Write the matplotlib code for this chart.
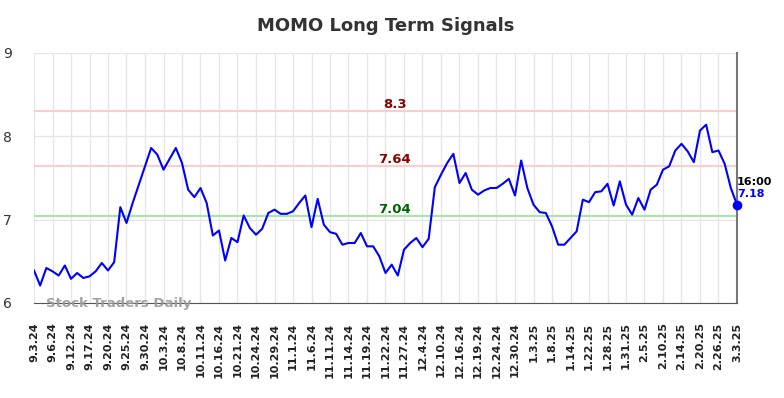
import numpy as np
import matplotlib.pyplot as plt

# Signal values, one per trading day
values = [6.39, 6.21, 6.42, 6.38, 6.33, 6.45, 6.29, 6.36, 6.30, 6.32,
          6.38, 6.48, 6.39, 6.49, 7.15, 6.96, 7.20, 7.42, 7.64, 7.86,
          7.78, 7.60, 7.73, 7.86, 7.68, 7.36, 7.27, 7.38, 7.20, 6.81,
          6.87, 6.51, 6.78, 6.73, 7.05, 6.90, 6.82, 6.89, 7.08, 7.12,
          7.07, 7.07, 7.10, 7.20, 7.29, 6.91, 7.25, 6.94, 6.85, 6.83,
          6.70, 6.72, 6.72, 6.84, 6.68, 6.68, 6.56, 6.36, 6.46, 6.33,
          6.64, 6.72, 6.78, 6.67, 6.77, 7.39, 7.54, 7.68, 7.79, 7.44,
          7.56, 7.36, 7.30, 7.35, 7.38, 7.38, 7.43, 7.49, 7.29, 7.71,
          7.38, 7.18, 7.09, 7.08, 6.92, 6.70, 6.70, 6.78, 6.86, 7.24,
          7.21, 7.33, 7.34, 7.43, 7.17, 7.46, 7.18, 7.06, 7.26, 7.12,
          7.36, 7.42, 7.60, 7.64, 7.83, 7.91, 7.82, 7.69, 8.07, 8.14,
          7.81, 7.83, 7.67, 7.38, 7.18]

tick_labels = ['9.3.24', '9.6.24', '9.12.24', '9.17.24', '9.20.24', '9.25.24',
               '9.30.24', '10.3.24', '10.8.24', '10.11.24', '10.16.24',
               '10.21.24', '10.24.24', '10.29.24', '11.1.24', '11.6.24',
               '11.11.24', '11.14.24', '11.19.24', '11.22.24', '11.27.24',
               '12.4.24', '12.10.24', '12.16.24', '12.19.24', '12.24.24',
               '12.30.24', '1.3.25', '1.8.25', '1.14.25', '1.22.25', '1.28.25',
               '1.31.25', '2.5.25', '2.10.25', '2.14.25', '2.20.25', '2.26.25',
               '3.3.25']

# Signal levels
levels = [8.3, 7.64, 7.04]
level_line_colors = ['#ffcccc', '#ffcccc', '#a6e6a6']
level_text_colors = ['#8b0000', '#8b0000', '#006400']

last_time = '16:00'

x = np.arange(len(values))
tick_pos = np.arange(len(tick_labels)) * 3

fig = plt.figure(figsize=(7.84, 3.98), dpi=100)
ax = fig.add_axes([34/784, 1 - 303/398, (737 - 34)/784, (303 - 53)/398])

# Grid
for t in tick_pos:
    ax.axvline(t, color='#e6e6e6', lw=1, zorder=0)
for yv in [6, 7, 8, 9]:
    ax.axhline(yv, color='#e6e6e6', lw=1, zorder=0)

# Signal lines and labels
for lv, lc, tc in zip(levels, level_line_colors, level_text_colors):
    ax.axhline(lv, color=lc, lw=1.5, zorder=1)
    ax.text(58.5, lv + 0.085, f'{lv:g}', color=tc, fontsize=9.5, fontweight='bold',
            ha='center', va='center', zorder=3)

ax.plot(x, values, color='#0000ff', lw=1.5, zorder=4)
ax.plot(x[-1], values[-1], 'o', color='#0000ff', ms=6, zorder=5, clip_on=False)

ax.text(x[-1], values[-1] + 0.27, last_time, color='black', fontsize=8,
        fontweight='bold', ha='left', va='center', clip_on=False)
ax.text(x[-1], values[-1] + 0.125, f'{values[-1]:.2f}', color='#0000ff',
        fontsize=8, fontweight='bold', ha='left', va='center', clip_on=False)

ax.text(2, 6.0, 'Stock Traders Daily', color='#999999', fontsize=9.5,
        fontweight='bold', ha='left', va='center', alpha=0.9, zorder=6)

ax.set_xlim(0, len(values) - 1)
ax.set_ylim(6, 9)
ax.set_yticks([6, 7, 8, 9])
ax.set_yticklabels(['6', '7', '8', '9'], fontsize=10, color='#333333')
ax.set_xticks(tick_pos)
ax.set_xticklabels(tick_labels, rotation=90, fontsize=8, fontweight='bold',
                   color='#222222')
ax.tick_params(axis='both', length=0)
ax.tick_params(axis='y', pad=16)
ax.tick_params(axis='x', pad=14)

for side in ['top', 'left']:
    ax.spines[side].set_visible(False)
ax.spines['bottom'].set_color('#555555')
ax.spines['right'].set_color('#777777')
ax.spines['right'].set_linewidth(1.5)

fig.suptitle('MOMO Long Term Signals', x=(34 + 737) / 2 / 784, y=1 - 26/398,
             va='center', fontsize=13, fontweight='bold', color='#333333')

fig.savefig('out.png', dpi=100)
